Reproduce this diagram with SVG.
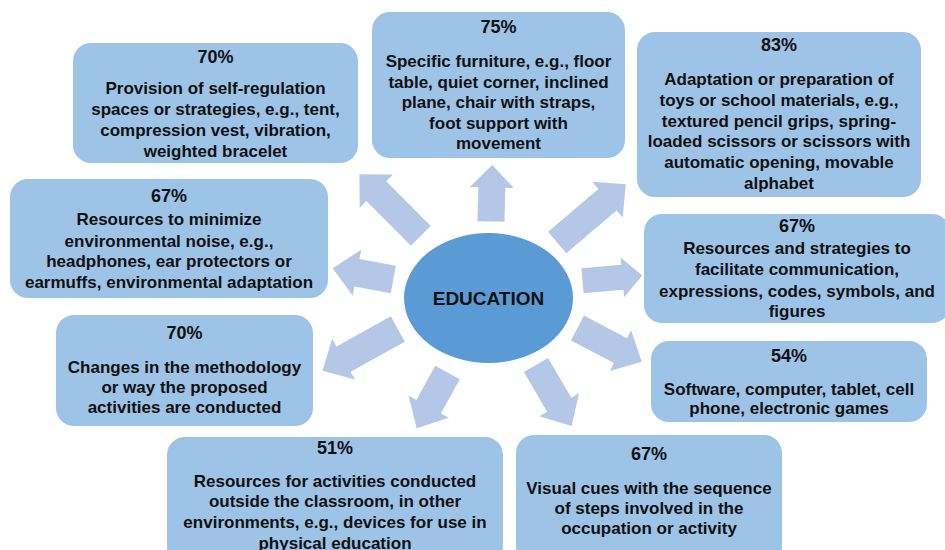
<svg xmlns="http://www.w3.org/2000/svg" width="945" height="550" viewBox="0 0 945 550">
  <style>
    .box { fill: #9DC3E6; }
    .arrow { fill: #B4C7E7; }
    .hub { fill: #5B9BD5; }
    text { font-family: "Liberation Sans", Arial, sans-serif; font-weight: bold; fill: #111; text-anchor: middle; }
    .pct { font-size: 18px; }
    .body { font-size: 17px; }
    .hubtxt { font-size: 19px; }
  </style>

  <rect width="945" height="550" fill="#ffffff"/>

  <!-- block arrows radiating from the central ellipse -->
  <g id="connectors">
    <polygon class="arrow" points="0,-13.5 34,-13.5 34,-22 56.5,0 34,22 34,13.5 0,13.5" transform="translate(491,221.5) rotate(-88.7)"/>
    <polygon class="arrow" points="0,-14 63,-14 63,-23.5 87,0 63,23.5 63,14 0,14" transform="translate(420.8,235.8) rotate(-134.9)"/>
    <polygon class="arrow" points="0,-14 66,-14 66,-23.5 90,0 66,23.5 66,14 0,14" transform="translate(557.2,242.5) rotate(-40.4)"/>
    <polygon class="arrow" points="0,-14 37,-14 37,-23.5 61.6,0 37,23.5 37,14 0,14" transform="translate(393.3,279.5) rotate(-169.5)"/>
    <polygon class="arrow" points="0,-12.5 40,-12.5 40,-20 60,0 40,20 40,12.5 0,12.5" transform="translate(582.5,280.8) rotate(-5)"/>
    <polygon class="arrow" points="0,-14.5 62,-14.5 62,-23.5 86,0 62,23.5 62,14.5 0,14.5" transform="translate(397.8,329) rotate(151)"/>
    <polygon class="arrow" points="0,-14 39,-14 39,-23 63.7,0 39,23 39,14 0,14" transform="translate(447.5,372.5) rotate(118.9)"/>
    <polygon class="arrow" points="0,-14 48.5,-14 48.5,-23 72.5,0 48.5,23 48.5,14 0,14" transform="translate(577.5,328) rotate(27.7)"/>
    <polygon class="arrow" points="0,-14 46,-14 46,-23 70.7,0 46,23 46,14 0,14" transform="translate(536,365) rotate(59.7)"/>
  </g>

  <g id="education">
    <ellipse class="hub" cx="488.5" cy="298" rx="84.5" ry="65"/>
    <text class="hubtxt" x="488.5" y="304.5">EDUCATION</text>
  </g>

  <g id="self-regulation">
    <rect class="box" x="73" y="43" width="285" height="120" rx="18"/>
    <text class="pct" x="215.5" y="62.5">70%</text>
    <text class="body" x="215.5" y="94">Provision of self-regulation</text>
    <text class="body" x="215.5" y="115">spaces or strategies, e.g., tent,</text>
    <text class="body" x="215.5" y="136">compression vest, vibration,</text>
    <text class="body" x="215.5" y="157">weighted bracelet</text>
  </g>

  <g id="furniture">
    <rect class="box" x="372" y="12" width="253" height="146" rx="18"/>
    <text class="pct" x="498.5" y="33">75%</text>
    <text class="body" x="498.5" y="67">Specific furniture, e.g., floor</text>
    <text class="body" x="498.5" y="87.5">table, quiet corner, inclined</text>
    <text class="body" x="498.5" y="108">plane, chair with straps,</text>
    <text class="body" x="498.5" y="128.5">foot support with</text>
    <text class="body" x="498.5" y="149">movement</text>
  </g>

  <g id="materials">
    <rect class="box" x="637" y="32" width="284" height="165" rx="18"/>
    <text class="pct" x="779" y="50.5">83%</text>
    <text class="body" x="779" y="85">Adaptation or preparation of</text>
    <text class="body" x="779" y="106">toys or school materials, e.g.,</text>
    <text class="body" x="779" y="126.7">textured pencil grips, spring-</text>
    <text class="body" x="779" y="147.3">loaded scissors or scissors with</text>
    <text class="body" x="779" y="168.3">automatic opening, movable</text>
    <text class="body" x="779" y="188.5">alphabet</text>
  </g>

  <g id="communication">
    <rect class="box" x="644" y="214" width="306" height="109" rx="18"/>
    <text class="pct" x="797" y="231.7">67%</text>
    <text class="body" x="797" y="254.3">Resources and strategies to</text>
    <text class="body" x="797" y="275.3">facilitate communication,</text>
    <text class="body" x="797" y="296.7">expressions, codes, symbols, and</text>
    <text class="body" x="797" y="317.3">figures</text>
  </g>

  <g id="electronics">
    <rect class="box" x="651" y="341" width="276" height="81" rx="18"/>
    <text class="pct" x="789" y="362.3">54%</text>
    <text class="body" x="789" y="394.5">Software, computer, tablet, cell</text>
    <text class="body" x="789" y="414">phone, electronic games</text>
  </g>

  <g id="visual-cues">
    <rect class="box" x="516" y="435" width="266" height="130" rx="18"/>
    <text class="pct" x="649" y="460">67%</text>
    <text class="body" x="649" y="493.5">Visual cues with the sequence</text>
    <text class="body" x="649" y="513.5">of steps involved in the</text>
    <text class="body" x="649" y="534">occupation or activity</text>
  </g>

  <g id="outside-classroom">
    <rect class="box" x="167" y="437" width="336" height="128" rx="18"/>
    <text class="pct" x="335" y="454.3">51%</text>
    <text class="body" x="335" y="486.7">Resources for activities conducted</text>
    <text class="body" x="335" y="507.3">outside the classroom, in other</text>
    <text class="body" x="335" y="528.3">environments, e.g., devices for use in</text>
    <text class="body" x="335" y="548.5">physical education</text>
  </g>

  <g id="methodology">
    <rect class="box" x="56" y="315" width="257" height="111" rx="18"/>
    <text class="pct" x="184.5" y="339.3">70%</text>
    <text class="body" x="184.5" y="372.7">Changes in the methodology</text>
    <text class="body" x="184.5" y="392.7">or way the proposed</text>
    <text class="body" x="184.5" y="412.7">activities are conducted</text>
  </g>

  <g id="noise">
    <rect class="box" x="10" y="179" width="318" height="119" rx="18"/>
    <text class="pct" x="169" y="201.7">67%</text>
    <text class="body" x="169" y="225">Resources to minimize</text>
    <text class="body" x="169" y="246.5">environmental noise, e.g.,</text>
    <text class="body" x="169" y="267">headphones, ear protectors or</text>
    <text class="body" x="169" y="288">earmuffs, environmental adaptation</text>
  </g>
</svg>
